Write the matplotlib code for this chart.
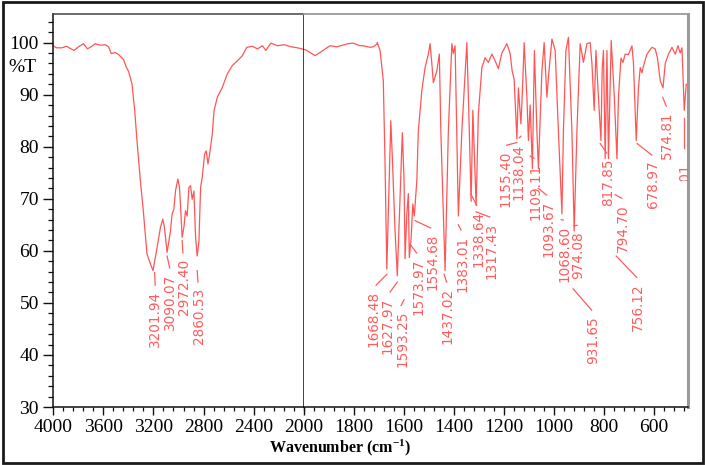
import matplotlib
matplotlib.use('Agg')
import matplotlib.pyplot as plt
from matplotlib.patches import Rectangle
from matplotlib.ticker import MultipleLocator, FixedLocator

# ---------------- data ----------------
wn_left = [4000, 3971, 3931, 3891, 3864, 3832, 3797, 3757, 3725, 3691, 3664, 3624, 3584, 3557,
           3536, 3504, 3477, 3437, 3416, 3397, 3371, 3349, 3331, 3304, 3283, 3251, 3224, 3203,
           3171, 3144, 3125, 3112, 3091, 3064, 3051, 3037, 3024, 3005, 2992, 2979, 2971, 2957,
           2944, 2931, 2917, 2904, 2891, 2877, 2864, 2851, 2837, 2824, 2811, 2792, 2779, 2765,
           2752, 2731, 2717, 2691, 2651, 2611, 2571, 2531, 2491, 2456, 2411, 2371, 2331, 2304,
           2264, 2211, 2157, 2104, 2051, 2000]
t_left = [99.4, 99.0, 99.0, 99.3, 98.9, 98.5, 99.2, 99.8, 98.8, 99.3, 99.8, 99.5, 99.6, 99.2,
          97.9, 98.1, 97.7, 96.7, 95.3, 94.4, 92.1, 87.0, 81.2, 73.5, 68.4, 59.4, 57.5, 56.2,
          60.6, 64.5, 66.1, 64.5, 59.7, 63.8, 67.1, 68.0, 71.5, 73.8, 72.2, 66.4, 62.6, 64.5,
          67.7, 66.7, 72.2, 72.5, 69.9, 71.5, 62.6, 59.0, 61.9, 72.2, 74.1, 78.6, 79.2, 76.7,
          78.6, 82.4, 86.9, 89.5, 91.4, 94.0, 95.6, 96.5, 97.5, 99.1, 99.3, 98.8, 99.4, 98.5,
          99.9, 99.4, 99.6, 99.2, 99.0, 98.7]

wn_right = [2000, 1989, 1956, 1936, 1896, 1869, 1823, 1803, 1776, 1763, 1736, 1723, 1709, 1707,
            1696, 1683, 1676, 1669, 1653, 1647, 1636, 1627, 1616, 1607, 1600, 1596, 1589, 1583,
            1579, 1572, 1565, 1559, 1549, 1543, 1529, 1516, 1503, 1496, 1489, 1483, 1469, 1459,
            1453, 1436, 1423, 1409, 1403, 1396, 1383, 1369, 1349, 1341, 1332, 1325, 1312, 1303,
            1289, 1276, 1263, 1249, 1236, 1223, 1209, 1189, 1176, 1168, 1160, 1149, 1143, 1133,
            1127, 1120, 1109, 1103, 1096, 1087, 1079, 1069, 1063, 1049, 1040, 1029, 1023, 1009,
            996, 983, 969, 963, 953, 943, 929, 920, 909, 896, 883, 869, 856, 849, 840, 833, 823,
            813, 808, 803, 796, 789, 783, 772, 760, 749, 743, 733, 725, 716, 703, 689, 683, 672,
            663, 656, 649, 643, 629, 609, 596, 587, 576, 565, 556, 543, 529, 516, 505, 496, 489,
            480, 472, 465]
t_right = [98.7, 98.5, 97.5, 98.1, 99.4, 99.2, 99.8, 99.9, 99.4, 99.4, 99.1, 99.2, 99.7, 100.0,
           98.5, 92.7, 76.7, 56.5, 85.0, 78.0, 63.8, 55.2, 70.0, 82.7, 73.5, 58.5, 67.0, 71.0,
           58.7, 62.3, 69.0, 66.7, 73.5, 83.0, 90.8, 95.2, 97.8, 99.8, 96.0, 92.3, 94.6, 97.8,
           83.0, 56.2, 83.0, 99.8, 97.9, 99.4, 66.7, 83.0, 100.0, 86.3, 69.5, 87.0, 68.7, 86.3,
           95.2, 97.1, 96.2, 97.8, 96.5, 95.0, 98.0, 99.8, 97.9, 94.6, 92.9, 81.5, 91.3, 84.4,
           90.5, 100.0, 89.5, 81.2, 88.0, 75.8, 98.5, 83.0, 75.8, 94.6, 100.0, 89.5, 93.3, 100.7,
           98.5, 83.0, 67.1, 83.0, 98.5, 101.0, 83.0, 63.8, 83.0, 99.8, 96.2, 99.8, 100.0, 96.0,
           87.0, 98.5, 89.5, 81.2, 95.0, 98.5, 77.7, 98.5, 77.7, 100.4, 90.0, 77.7, 89.5, 97.0,
           96.2, 97.8, 97.7, 99.4, 96.0, 81.2, 91.3, 95.2, 94.2, 95.5, 97.8, 99.1, 98.8, 97.0,
           92.7, 91.3, 96.0, 97.8, 99.1, 97.8, 99.4, 98.0, 99.0, 87.0, 92.0, 92.0]

left_peaks = ["3201.94", "3090.07", "2972.40", "2860.53"]
right_peaks = ["1668.48", "1627.97", "1593.25", "1573.97", "1554.68", "1437.02", "1383.01",
               "1338.64", "1317.43", "1155.40", "1138.04", "1109.11", "1093.67", "1068.60",
               "974.08", "931.65", "817.85", "794.70", "756.12", "678.97", "574.81", "488.01"]

x_ticks_left = [4000, 3600, 3200, 2800, 2400, 2000]
x_ticks_right = [1800, 1600, 1400, 1200, 1000, 800, 600]
y_ticks = [30, 40, 50, 60, 70, 80, 90, 100]

# ---------------- layout (label placement: x, top, leader start x,y, leader end x,y) ----------------
left_layout = [
    (3184, 52.3, 3190, 55.8, 3186, 53.4),
    (3064, 55.6, 3091, 59.0, 3070, 56.7),
    (2960, 58.5, 2971, 62.0, 2965, 59.6),
    (2840, 52.9, 2851, 56.2, 2845, 54.0),
]
right_layout = [
    (1720, 52.3, 1669, 55.5, 1712, 53.4),
    (1664, 51.0, 1627, 54.0, 1656, 52.1),
    (1608, 48.5, 1600, 50.6, 1612, 49.5),
    (1544, 58.5, 1576, 61.3, 1550, 59.6),
    (1488, 63.3, 1556, 65.8, 1494, 64.4),
    (1428, 52.9, 1440, 55.5, 1430, 54.0),
    (1368, 62.9, 1383, 65.0, 1372, 64.0),
    (1304, 67.7, 1334, 71.0, 1310, 68.8),
    (1252, 65.4, 1312, 67.5, 1258, 66.5),
    (1196, 79.2, 1149, 80.8, 1190, 80.3),
    (1144, 80.6, 1133, 82.0, 1140, 81.7),
    (1076, 76.7, 1096, 78.2, 1080, 77.8),
    (1024, 69.6, 1063, 72.0, 1030, 70.7),
    (960, 64.8, 972, 66.0, 964, 65.9),
    (904, 63.8, 922, 64.8, 908, 64.9),
    (844, 47.5, 924, 52.7, 850, 48.6),
    (784, 77.7, 816, 80.6, 790, 78.8),
    (724, 69.0, 756, 70.8, 730, 70.1),
    (664, 53.8, 752, 59.0, 670, 54.9),
    (604, 77.3, 668, 80.6, 610, 78.4),
    (548, 86.7, 566, 89.5, 552, 87.8),
    (476, 76.8, 481, 85.6, 481, 79.8),
]

# ---------------- figure ----------------
W, H = 705, 465
fig = plt.figure(figsize=(W / 100, H / 100), dpi=100)
fig.patch.set_facecolor('white')

ax_l = fig.add_axes([53 / W, (H - 407) / H, (304 - 53) / W, (407 - 14) / H])
ax_r = fig.add_axes([304 / W, (H - 407) / H, (688 - 304) / W, (407 - 14) / H])

line_c = '#ff5555'
text_c = '#ff5c5c'
serif = 'Liberation Serif'

ax_l.plot(wn_left, t_left, color=line_c, lw=0.9)
ax_r.plot(wn_right, t_right, color=line_c, lw=0.9)

ax_l.set_xlim(4000, 2000)
ax_r.set_xlim(2000, 465)
for ax in (ax_l, ax_r):
    ax.set_ylim(30, 105.5)

# ticks
ax_l.xaxis.set_major_locator(FixedLocator(x_ticks_left))
ax_l.xaxis.set_minor_locator(MultipleLocator(80))
ax_r.xaxis.set_major_locator(FixedLocator(x_ticks_right))
ax_r.xaxis.set_minor_locator(MultipleLocator(40))
ax_l.yaxis.set_major_locator(FixedLocator(y_ticks))
ax_l.yaxis.set_minor_locator(MultipleLocator(2))

for ax in (ax_l, ax_r):
    ax.tick_params(axis='x', which='major', direction='out', length=5.8, width=1.0,
                   pad=2.5, labelsize=14, color='#111')
    ax.tick_params(axis='x', which='minor', direction='out', length=3.0, width=0.9, color='#111')
    for lab in ax.get_xticklabels():
        lab.set_fontfamily(serif)
ax_l.tick_params(axis='y', which='major', direction='out', length=7.2, width=1.0,
                 pad=3, labelsize=14, color='#111')
ax_l.tick_params(axis='y', which='minor', direction='out', length=3.6, width=0.9, color='#111')
for lab in ax_l.get_yticklabels():
    lab.set_fontfamily(serif)
ax_r.tick_params(axis='y', which='both', left=False, labelleft=False)

# spines
ax_l.spines['left'].set_color('#111')
ax_l.spines['bottom'].set_color('#111')
ax_l.spines['top'].set_color('#444')
ax_l.spines['right'].set_color('#111')
for s in ax_l.spines.values():
    s.set_linewidth(1.1)
ax_r.spines['left'].set_visible(False)
ax_r.spines['bottom'].set_color('#111')
ax_r.spines['bottom'].set_linewidth(1.1)
ax_r.spines['top'].set_color('#9a9a9a')
ax_r.spines['top'].set_linewidth(1.3)
ax_r.spines['right'].set_color('#9a9a9a')
ax_r.spines['right'].set_linewidth(2.2)

# peak labels
def put_labels(ax, names, layout, clip_last=False):
    for i, (name, (lx, lt, x0, t0, x1, t1)) in enumerate(zip(names, layout)):
        ax.plot([x0, x1], [t0, t1], color=text_c, lw=0.9)
        t = ax.text(lx, lt, name, rotation=90, ha='center', va='top', fontsize=9.8,
                    color=text_c, family='DejaVu Sans', clip_on=True)
        if clip_last and i == len(names) - 1:
            rect = Rectangle((465, 73.5), 1535, 33, transform=ax.transData)
            t.set_clip_path(rect)

put_labels(ax_l, left_peaks, left_layout)
put_labels(ax_r, right_peaks, right_layout, clip_last=True)

# axis texts
fig.text(22 / W, 1 - 68 / H, '%T', ha='center', va='center', fontsize=14, family=serif)
plt.rcParams['mathtext.fontset'] = 'custom'
plt.rcParams['mathtext.rm'] = serif
plt.rcParams['mathtext.bf'] = serif + ':bold'
plt.rcParams['mathtext.default'] = 'bf'
fig.text(340 / W, 1 - 448 / H, r'Wavenumber (cm$^{-1}$)', ha='center', va='center',
         fontsize=11.5, family=serif, fontweight='bold')

# outer frame
fig.patches.append(Rectangle((2.5 / W, 2.5 / H), (W - 5) / W, (H - 5) / H,
                             transform=fig.transFigure, fill=False, edgecolor='#1a1a1a',
                             linewidth=2.0, figure=fig))

fig.savefig('out.png', dpi=100)
